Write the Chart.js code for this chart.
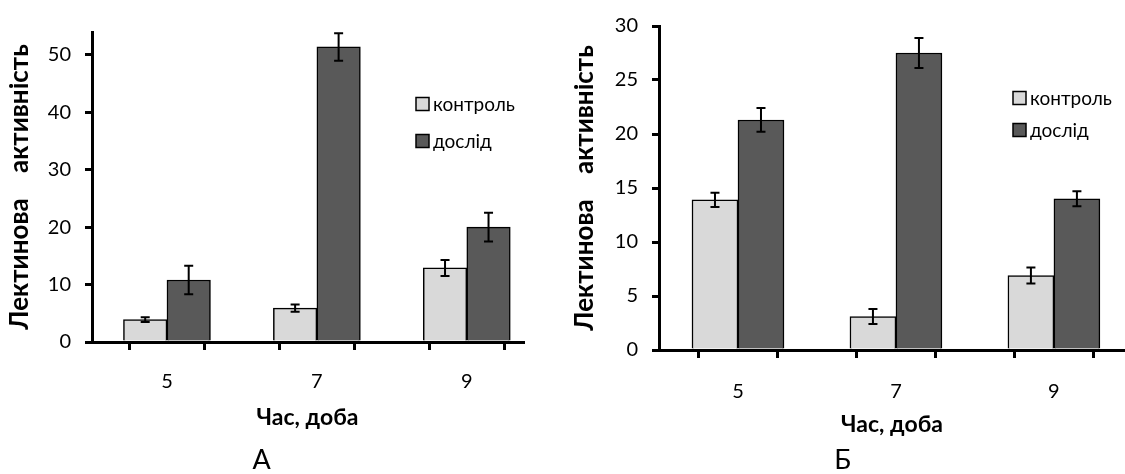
<!DOCTYPE html>
<html>
<head>
<meta charset="utf-8">
<script src="https://cdn.jsdelivr.net/npm/chart.js@4/dist/chart.umd.min.js"></script>
<style>
  body { margin: 0; background: #fff; width: 1125px; height: 474px; position: relative; overflow: hidden; }
  canvas { position: absolute; top: 0; }
</style>
</head>
<body>
<canvas id="graph-a" width="560" height="474" style="left:0"></canvas>
<canvas id="graph-b" width="565" height="474" style="left:560px"></canvas>
<script>
// days of observation and the two series
const days = [5, 7, 9];
const seriesNames = ['контроль', 'дослід'];
const xTicks = [4, 5, 6, 7, 8, 9];

// panel A
const controlA = [3.9, 5.9, 12.9];
const controlErrA = [0.4, 0.65, 1.4];
const testA = [10.8, 51.4, 20.0];
const testErrA = [2.5, 2.4, 2.5];
const yTicksA = [0, 10, 20, 30, 40, 50];

// panel B
const controlB = [13.9, 3.1, 6.9];
const controlErrB = [0.65, 0.7, 0.75];
const testB = [21.3, 27.5, 14.0];
const testErrB = [1.1, 1.4, 0.7];
const yTicksB = [0, 5, 10, 15, 20, 25, 30];

Chart.defaults.font.family = 'Lato, "Open Sans", sans-serif';
Chart.defaults.color = '#000';

// error bars on top of each bar
const errorBars = {
  id: 'errorBars',
  afterDatasetsDraw(chart) {
    const ctx = chart.ctx;
    const y = chart.scales.y;
    ctx.save();
    ctx.strokeStyle = '#000';
    ctx.lineWidth = 2;
    chart.data.datasets.forEach((ds, i) => {
      chart.getDatasetMeta(i).data.forEach((bar, j) => {
        const v = ds.data[j].y, e = ds.errors[j];
        const top = y.getPixelForValue(v + e);
        const bot = y.getPixelForValue(v - e);
        ctx.beginPath();
        ctx.moveTo(bar.x, top); ctx.lineTo(bar.x, bot);
        ctx.moveTo(bar.x - 4.5, top); ctx.lineTo(bar.x + 4.5, top);
        ctx.moveTo(bar.x - 4.5, bot); ctx.lineTo(bar.x + 4.5, bot);
        ctx.stroke();
      });
    });
    ctx.restore();
  }
};

// small legend sitting inside the plot
const boxLegend = {
  id: 'boxLegend',
  afterDraw(chart, args, opts) {
    const ctx = chart.ctx;
    ctx.save();
    ctx.font = '19px ' + Chart.defaults.font.family;
    ctx.textBaseline = 'middle';
    chart.data.datasets.forEach((ds, i) => {
      const y = opts.y + i * opts.gap;
      ctx.fillStyle = ds.backgroundColor;
      ctx.fillRect(opts.x, y - 6.5, 13, 13);
      ctx.lineWidth = 1.5;
      ctx.strokeStyle = '#000';
      ctx.strokeRect(opts.x, y - 6.5, 13, 13);
      ctx.fillStyle = '#000';
      ctx.fillText(ds.label, opts.x + 17, y + 1);
    });
    ctx.restore();
  }
};

function barChart(id, s) {
  return new Chart(document.getElementById(id), {
    type: 'bar',
    data: {
      datasets: [
        {
          label: seriesNames[0],
          data: days.map((d, i) => ({ x: d, y: s.control[i] })),
          errors: s.controlErr,
          backgroundColor: '#d9d9d9',
          borderColor: '#000',
          borderWidth: 1.5,
          barThickness: s.barWidth,
        },
        {
          label: seriesNames[1],
          data: days.map((d, i) => ({ x: d, y: s.test[i] })),
          errors: s.testErr,
          backgroundColor: '#595959',
          borderColor: '#000',
          borderWidth: 1.5,
          barThickness: s.barWidth,
        },
      ]
    },
    options: {
      responsive: false,
      animation: false,
      layout: { padding: s.pad },
      plugins: {
        legend: { display: false },
        tooltip: { enabled: false },
        title: {
          display: true, position: 'bottom', text: s.panel,
          font: { size: 27, weight: 'normal', lineHeight: 1 }, color: '#000', padding: 0,
        },
        boxLegend: s.legend,
      },
      scales: {
        x: {
          type: 'linear', min: 4, max: s.xMax, offset: false,
          afterBuildTicks: sc => { sc.ticks = xTicks.map(v => ({ value: v })); },
          afterFit: sc => { sc.height = s.xHeight; },
          border: { color: '#000', width: 3 },
          grid: { drawOnChartArea: false, color: '#000', lineWidth: 3, tickLength: 8 },
          ticks: {
            font: { size: 20 }, padding: s.xTickPad, autoSkip: false, maxRotation: 0,
            callback: v => days.includes(v) ? String(v) : '',
          },
          title: {
            display: true, text: 'Час, доба', color: '#000',
            font: { size: 23, weight: 'bold' }, padding: s.xTitlePad,
          },
        },
        y: {
          min: 0, max: s.yMax,
          afterBuildTicks: sc => { sc.ticks = s.yTicks.map(v => ({ value: v })); },
          afterFit: sc => { sc.width = s.yWidth; },
          border: { color: '#000', width: 3 },
          grid: { drawOnChartArea: false, color: '#000', lineWidth: 3, tickLength: 7 },
          ticks: { font: { size: 20 }, padding: 14 },
          title: {
            display: true, text: 'Лектинова    активність', color: '#000',
            font: { size: 26, weight: 'bold' }, padding: s.yTitlePad,
          },
        },
      },
    },
    plugins: [errorBars, boxLegend],
  });
}

const graphA = barChart('graph-a', {
  control: controlA, controlErr: controlErrA, test: testA, testErr: testErrA,
  yTicks: yTicksA, yMax: 54, xMax: 9.75, barWidth: 43.5,
  pad: { top: 32, right: 37, left: 0, bottom: 0 },
  yWidth: 92, yTitlePad: { top: 4, bottom: 0 },
  xHeight: 105, xTickPad: 20, xTitlePad: { top: 10.2, bottom: 15.2 },
  panel: 'А', legend: { x: 416, y: 104, gap: 37 },
});

const graphB = barChart('graph-b', {
  control: controlB, controlErr: controlErrB, test: testB, testErr: testErrB,
  yTicks: yTicksB, yMax: 30, xMax: 9.9, barWidth: 46,
  pad: { top: 23, right: 0, left: 0, bottom: 0 },
  yWidth: 99, yTitlePad: { top: 9, bottom: 0 },
  xHeight: 97, xTickPad: 22, xTitlePad: { top: 7.2, bottom: 8.2 },
  panel: 'Б', legend: { x: 453, y: 98, gap: 32 },
});
</script>
</body>
</html>
